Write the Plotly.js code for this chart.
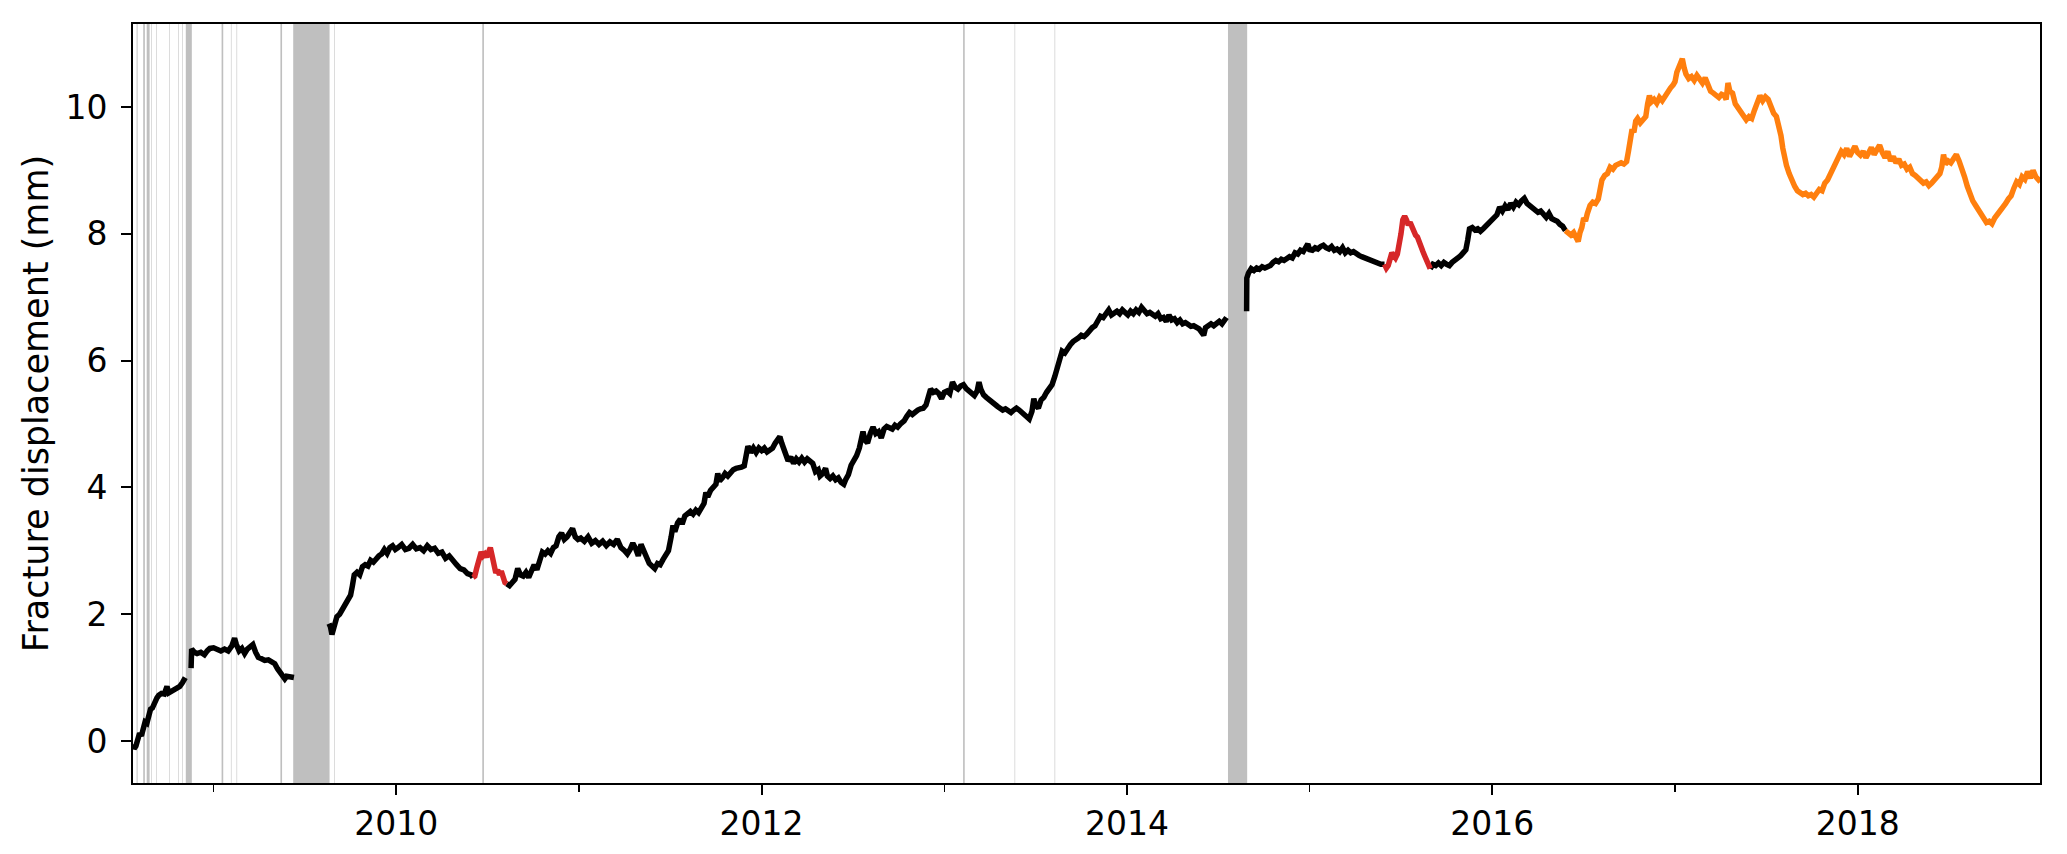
<!DOCTYPE html>
<html>
<head>
<meta charset="utf-8">
<script src="https://cdn.plot.ly/plotly-3.0.1.min.js"></script>
<style>
  html, body { margin: 0; padding: 0; background: #fff; }
  #plot { width: 2067px; height: 854px; }
</style>
</head>
<body>
<div id="plot"></div>
<script>
// decimal years / displacement in mm, null = data gap
var blackYear = [
  2008.560, 2008.565, 2008.575, 2008.585, 2008.595, 2008.605, 2008.615, 2008.625, 2008.635, 2008.645,
  2008.655, 2008.665, 2008.675, 2008.690, 2008.700, 2008.715, 2008.730, 2008.745, 2008.755, 2008.770,
  2008.785, 2008.800, 2008.815, 2008.830, 2008.845, null,
  2008.877, 2008.880, 2008.895, 2008.910, 2008.930, 2008.950, 2008.965, 2008.980, 2009.000, 2009.020,
  2009.040, 2009.060, 2009.080, 2009.100, 2009.115, 2009.125, 2009.140, 2009.155, 2009.170, 2009.185,
  2009.200, 2009.215, 2009.230, 2009.245, 2009.260, 2009.280, 2009.300, 2009.320, 2009.335, 2009.350,
  2009.365, 2009.380, 2009.390, 2009.400, 2009.420, 2009.440, null,
  2009.632, 2009.640, 2009.648, 2009.655, 2009.665, 2009.675, 2009.690, 2009.705, 2009.720, 2009.735,
  2009.750, 2009.760, 2009.770, 2009.785, 2009.800, 2009.815, 2009.830, 2009.845, 2009.860, 2009.875,
  2009.890, 2009.905, 2009.920, 2009.935, 2009.950, 2009.965, 2009.980, 2009.995, 2010.010, 2010.030,
  2010.050, 2010.070, 2010.090, 2010.110, 2010.130, 2010.150, 2010.170, 2010.190, 2010.210, 2010.230,
  2010.250, 2010.270, 2010.290, 2010.310, 2010.330, 2010.350, 2010.370, 2010.390, 2010.410, 2010.420, null,
  2010.605, 2010.620, 2010.635, 2010.650, 2010.665, 2010.680, 2010.695, 2010.710, 2010.725, 2010.740,
  2010.755, 2010.770, 2010.785, 2010.800, 2010.815, 2010.830, 2010.845, 2010.860, 2010.875, 2010.890,
  2010.905, 2010.920, 2010.935, 2010.950, 2010.965, 2010.980, 2010.995, 2011.010, 2011.030, 2011.050,
  2011.070, 2011.090, 2011.110, 2011.130, 2011.150, 2011.170, 2011.190, 2011.210, 2011.230, 2011.250,
  2011.265, 2011.280, 2011.295, 2011.310, 2011.325, 2011.340, 2011.355, 2011.370, 2011.385, 2011.400,
  2011.415, 2011.430, 2011.445, 2011.460, 2011.475, 2011.490, 2011.505, 2011.515, 2011.525, 2011.540,
  2011.555, 2011.565, 2011.580, 2011.595, 2011.610, 2011.625, 2011.640, 2011.655, 2011.670, 2011.685,
  2011.695, 2011.705, 2011.720, 2011.735, 2011.750, 2011.760, 2011.770, 2011.785, 2011.800, 2011.815,
  2011.830, 2011.845, 2011.860, 2011.875, 2011.890, 2011.905, 2011.915, 2011.925, 2011.940, 2011.955,
  2011.970, 2011.985, 2012.000, 2012.015, 2012.030, 2012.045, 2012.060, 2012.075, 2012.090, 2012.100,
  2012.110, 2012.125, 2012.135, 2012.145, 2012.160, 2012.175, 2012.190, 2012.205, 2012.220, 2012.235,
  2012.250, 2012.265, 2012.280, 2012.295, 2012.310, 2012.320, 2012.335, 2012.350, 2012.360, 2012.375,
  2012.390, 2012.405, 2012.420, 2012.435, 2012.450, 2012.460, 2012.475, 2012.490, 2012.505, 2012.520,
  2012.535, 2012.545, 2012.555, 2012.565, 2012.580, 2012.595, 2012.610, 2012.625, 2012.640, 2012.655,
  2012.670, 2012.685, 2012.700, 2012.715, 2012.730, 2012.745, 2012.760, 2012.780, 2012.795, 2012.810,
  2012.825, 2012.840, 2012.855, 2012.870, 2012.885, 2012.900, 2012.915, 2012.925, 2012.940, 2012.955,
  2012.970, 2012.985, 2013.000, 2013.015, 2013.030, 2013.045, 2013.060, 2013.075, 2013.090, 2013.105,
  2013.120, 2013.135, 2013.150, 2013.165, 2013.180, 2013.190, 2013.200, 2013.215, 2013.230, 2013.245,
  2013.260, 2013.275, 2013.290, 2013.305, 2013.320, 2013.335, 2013.350, 2013.365, 2013.380, 2013.395,
  2013.410, 2013.425, 2013.440, 2013.455, 2013.465, 2013.480, 2013.490, 2013.500, 2013.515, 2013.530,
  2013.545, 2013.560, 2013.575, 2013.590, 2013.605, 2013.620, 2013.635, 2013.645, 2013.660, 2013.675,
  2013.690, 2013.705, 2013.720, 2013.735, 2013.750, 2013.765, 2013.780, 2013.795, 2013.810, 2013.825,
  2013.840, 2013.855, 2013.870, 2013.885, 2013.900, 2013.915, 2013.930, 2013.945, 2013.960, 2013.975,
  2013.990, 2014.005, 2014.020, 2014.035, 2014.050, 2014.065, 2014.080, 2014.095, 2014.110, 2014.125,
  2014.140, 2014.155, 2014.170, 2014.185, 2014.200, 2014.215, 2014.230, 2014.245, 2014.260, 2014.275,
  2014.290, 2014.305, 2014.320, 2014.335, 2014.350, 2014.365, 2014.380, 2014.395, 2014.410, 2014.420,
  2014.430, 2014.445, 2014.460, 2014.475, 2014.490, 2014.505, 2014.520, 2014.535, 2014.545, null,
  2014.655, 2014.656, 2014.665, 2014.680, 2014.695, 2014.710, 2014.725, 2014.740, 2014.755, 2014.770,
  2014.785, 2014.800, 2014.815, 2014.830, 2014.845, 2014.860, 2014.875, 2014.890, 2014.905, 2014.920,
  2014.935, 2014.950, 2014.965, 2014.980, 2014.990, 2015.000, 2015.015, 2015.030, 2015.045, 2015.060,
  2015.075, 2015.090, 2015.105, 2015.120, 2015.135, 2015.150, 2015.165, 2015.180, 2015.195, 2015.210,
  2015.225, 2015.240, 2015.255, 2015.270, 2015.285, 2015.300, 2015.315, 2015.330, 2015.345, 2015.360,
  2015.375, 2015.390, 2015.410, null,
  2015.660, 2015.675, 2015.690, 2015.705, 2015.720, 2015.735, 2015.750, 2015.765, 2015.780, 2015.795,
  2015.810, 2015.825, 2015.840, 2015.855, 2015.865, 2015.875, 2015.890, 2015.905, 2015.920, 2015.935,
  2015.950, 2015.965, 2015.980, 2015.995, 2016.010, 2016.025, 2016.040, 2016.055, 2016.070, 2016.085,
  2016.100, 2016.115, 2016.130, 2016.145, 2016.160, 2016.175, 2016.190, 2016.205, 2016.220, 2016.235,
  2016.250, 2016.265, 2016.280, 2016.295, 2016.310, 2016.325, 2016.340, 2016.355, 2016.370, 2016.385,
  2016.400
];
var blackMm = [
  -0.05, -0.12, -0.08, 0.05, 0.12, 0.08, 0.20, 0.30, 0.28, 0.40,
  0.50, 0.52, 0.60, 0.68, 0.72, 0.75, 0.74, 0.86, 0.76, 0.78,
  0.80, 0.82, 0.86, 0.92, 1.00, null,
  1.15, 1.45, 1.40, 1.38, 1.40, 1.36, 1.42, 1.46, 1.47, 1.44,
  1.42, 1.45, 1.42, 1.50, 1.62, 1.52, 1.42, 1.46, 1.38, 1.45,
  1.50, 1.52, 1.40, 1.32, 1.30, 1.27, 1.28, 1.24, 1.22, 1.14,
  1.08, 1.04, 0.98, 1.02, 1.01, 1.00, null,
  1.85, 1.80, 1.68, 1.75, 1.90, 1.96, 2.00, 2.08, 2.15, 2.22,
  2.30, 2.45, 2.62, 2.66, 2.62, 2.75, 2.78, 2.76, 2.85, 2.82,
  2.88, 2.92, 2.95, 3.02, 2.96, 3.05, 3.08, 3.02, 3.05, 3.10,
  3.02, 3.04, 3.10, 3.03, 3.05, 3.00, 3.08, 3.02, 3.04, 2.96,
  2.98, 2.88, 2.92, 2.84, 2.78, 2.72, 2.70, 2.64, 2.62, 2.58, null,
  2.48, 2.45, 2.50, 2.55, 2.72, 2.62, 2.60, 2.66, 2.58, 2.70,
  2.78, 2.70, 2.85, 2.98, 2.95, 3.00, 2.96, 3.05, 3.08, 3.22,
  3.28, 3.18, 3.22, 3.30, 3.35, 3.22, 3.18, 3.20, 3.15, 3.22,
  3.12, 3.16, 3.10, 3.15, 3.08, 3.14, 3.10, 3.18, 3.05, 3.00,
  2.95, 3.02, 3.12, 3.04, 2.92, 3.10, 2.98, 2.88, 2.80, 2.76,
  2.72, 2.80, 2.78, 2.86, 2.92, 3.00, 3.22, 3.40, 3.30, 3.44,
  3.50, 3.42, 3.55, 3.60, 3.62, 3.58, 3.64, 3.60, 3.68, 3.75,
  3.92, 3.85, 3.95, 4.00, 4.05, 4.22, 4.10, 4.15, 4.22, 4.18,
  4.25, 4.28, 4.30, 4.30, 4.32, 4.34, 4.50, 4.65, 4.55, 4.62,
  4.55, 4.62, 4.58, 4.62, 4.56, 4.60, 4.62, 4.70, 4.78, 4.80,
  4.70, 4.60, 4.50, 4.42, 4.48, 4.38, 4.45, 4.40, 4.46, 4.40,
  4.45, 4.42, 4.38, 4.25, 4.28, 4.18, 4.22, 4.30, 4.18, 4.14,
  4.18, 4.12, 4.15, 4.08, 4.05, 4.12, 4.20, 4.35, 4.42, 4.50,
  4.62, 4.72, 4.88, 4.75, 4.70, 4.85, 4.95, 4.85, 4.88, 4.78,
  4.92, 4.96, 4.94, 4.92, 4.98, 4.95, 5.00, 5.05, 5.12, 5.18,
  5.15, 5.20, 5.22, 5.24, 5.25, 5.30, 5.48, 5.55, 5.50, 5.52,
  5.48, 5.40, 5.50, 5.52, 5.48, 5.66, 5.58, 5.55, 5.60, 5.62,
  5.56, 5.52, 5.48, 5.45, 5.52, 5.66, 5.55, 5.46, 5.42, 5.38,
  5.36, 5.30, 5.28, 5.25, 5.22, 5.24, 5.20, 5.18, 5.22, 5.25,
  5.22, 5.18, 5.15, 5.10, 5.08, 5.20, 5.40, 5.30, 5.25, 5.38,
  5.42, 5.50, 5.56, 5.62, 5.75, 5.90, 6.08, 6.15, 6.12, 6.20,
  6.25, 6.30, 6.32, 6.36, 6.40, 6.38, 6.42, 6.48, 6.52, 6.55,
  6.62, 6.70, 6.68, 6.75, 6.80, 6.72, 6.75, 6.78, 6.74, 6.80,
  6.76, 6.72, 6.78, 6.74, 6.80, 6.76, 6.84, 6.78, 6.74, 6.76,
  6.72, 6.70, 6.74, 6.66, 6.68, 6.62, 6.72, 6.64, 6.66, 6.60,
  6.64, 6.58, 6.60, 6.56, 6.54, 6.55, 6.52, 6.50, 6.44, 6.40,
  6.52, 6.55, 6.58, 6.55, 6.60, 6.62, 6.58, 6.65, 6.68, null,
  6.78, 7.30, 7.38, 7.45, 7.42, 7.46, 7.44, 7.48, 7.46, 7.48,
  7.50, 7.55, 7.58, 7.56, 7.60, 7.58, 7.62, 7.64, 7.62, 7.70,
  7.68, 7.74, 7.72, 7.80, 7.84, 7.75, 7.74, 7.78, 7.76, 7.80,
  7.82, 7.78, 7.76, 7.80, 7.74, 7.76, 7.72, 7.78, 7.70, 7.74,
  7.70, 7.72, 7.68, 7.66, 7.64, 7.62, 7.60, 7.58, 7.56, 7.55,
  7.54, 7.52, 7.52, null,
  7.45, 7.52, 7.50, 7.54, 7.50, 7.55, 7.52, 7.50, 7.55, 7.58,
  7.60, 7.65, 7.70, 7.75, 7.90, 8.08, 8.10, 8.06, 8.08, 8.04,
  8.08, 8.12, 8.18, 8.22, 8.25, 8.30, 8.42, 8.36, 8.44, 8.38,
  8.48, 8.42, 8.50, 8.46, 8.52, 8.56, 8.48, 8.44, 8.42, 8.38,
  8.34, 8.36, 8.30, 8.26, 8.32, 8.24, 8.22, 8.20, 8.15, 8.12,
  8.05
];

var redYear = [
  2010.420, 2010.430, 2010.440, 2010.455, 2010.465, 2010.475, 2010.485, 2010.495, 2010.505, 2010.515,
  2010.525, 2010.535, 2010.545, 2010.555, 2010.565, 2010.575, 2010.585, 2010.595, 2010.605, null,
  2015.410, 2015.420, 2015.430, 2015.440, 2015.450, 2015.460, 2015.470, 2015.480, 2015.490, 2015.500,
  2015.510, 2015.520, 2015.530, 2015.540, 2015.550, 2015.560, 2015.570, 2015.580, 2015.590, 2015.600,
  2015.610, 2015.620, 2015.630, 2015.640, 2015.650, 2015.660
];
var redMm = [
  2.58, 2.60, 2.72, 2.85, 2.98, 2.92, 2.95, 2.90, 3.00, 3.05,
  2.92, 2.80, 2.65, 2.70, 2.62, 2.68, 2.55, 2.50, 2.48, null,
  7.52, 7.46, 7.50, 7.62, 7.70, 7.66, 7.62, 7.68, 7.80, 8.00,
  8.22, 8.28, 8.22, 8.14, 8.18, 8.10, 8.08, 7.98, 7.95, 7.85,
  7.78, 7.72, 7.65, 7.58, 7.50, 7.45
];

var orangeYear = [
  2016.400, 2016.415, 2016.430, 2016.445, 2016.460, 2016.470, 2016.480, 2016.490, 2016.500, 2016.510,
  2016.520, 2016.535, 2016.550, 2016.565, 2016.580, 2016.590, 2016.600, 2016.615, 2016.630, 2016.645,
  2016.660, 2016.675, 2016.690, 2016.705, 2016.720, 2016.735, 2016.745, 2016.755, 2016.765, 2016.775,
  2016.785, 2016.795, 2016.810, 2016.825, 2016.840, 2016.850, 2016.860, 2016.870, 2016.885, 2016.900,
  2016.915, 2016.930, 2016.945, 2016.960, 2016.975, 2016.990, 2017.000, 2017.010, 2017.020, 2017.030,
  2017.040, 2017.050, 2017.060, 2017.075, 2017.090, 2017.105, 2017.120, 2017.135, 2017.150, 2017.165,
  2017.180, 2017.195, 2017.210, 2017.225, 2017.240, 2017.255, 2017.270, 2017.280, 2017.290, 2017.300,
  2017.315, 2017.330, 2017.345, 2017.360, 2017.375, 2017.390, 2017.405, 2017.420, 2017.435, 2017.450,
  2017.465, 2017.480, 2017.495, 2017.510, 2017.525, 2017.540, 2017.555, 2017.570, 2017.580, 2017.590,
  2017.600, 2017.610, 2017.625, 2017.640, 2017.655, 2017.670, 2017.685, 2017.700, 2017.715, 2017.730,
  2017.745, 2017.760, 2017.775, 2017.790, 2017.805, 2017.820, 2017.835, 2017.850, 2017.865, 2017.880,
  2017.895, 2017.910, 2017.925, 2017.940, 2017.955, 2017.970, 2017.985, 2018.000, 2018.015, 2018.030,
  2018.045, 2018.060, 2018.075, 2018.090, 2018.105, 2018.120, 2018.135, 2018.150, 2018.165, 2018.180,
  2018.195, 2018.210, 2018.225, 2018.240, 2018.255, 2018.270, 2018.285, 2018.300, 2018.315, 2018.330,
  2018.345, 2018.360, 2018.375, 2018.390, 2018.405, 2018.420, 2018.435, 2018.450, 2018.460, 2018.470,
  2018.480, 2018.495, 2018.510, 2018.525, 2018.540, 2018.555, 2018.570, 2018.585, 2018.600, 2018.615,
  2018.630, 2018.645, 2018.660, 2018.675, 2018.690, 2018.705, 2018.720, 2018.735, 2018.750, 2018.765,
  2018.780, 2018.795, 2018.810, 2018.825, 2018.840, 2018.855, 2018.870, 2018.885, 2018.900, 2018.915,
  2018.930, 2018.945, 2018.960, 2018.975, 2018.990, 2019.000
];
var orangeMm = [
  8.05, 8.00, 7.98, 8.02, 7.95, 7.88, 8.02, 8.10, 8.25, 8.20,
  8.32, 8.45, 8.50, 8.48, 8.55, 8.70, 8.85, 8.92, 8.95, 9.05,
  9.02, 9.08, 9.10, 9.12, 9.10, 9.14, 9.30, 9.55, 9.65, 9.60,
  9.78, 9.82, 9.75, 9.80, 9.85, 10.05, 10.18, 10.08, 10.12, 10.06,
  10.15, 10.10, 10.18, 10.22, 10.30, 10.35, 10.40, 10.55, 10.62, 10.68,
  10.76, 10.62, 10.52, 10.45, 10.48, 10.42, 10.50, 10.44, 10.38, 10.46,
  10.32, 10.25, 10.22, 10.18, 10.15, 10.20, 10.18, 10.12, 10.38, 10.25,
  10.22, 10.05, 9.98, 9.90, 9.86, 9.80, 9.85, 9.82, 9.95, 10.05,
  10.18, 10.10, 10.16, 10.12, 10.00, 9.90, 9.85, 9.70, 9.55, 9.35,
  9.20, 9.08, 8.95, 8.82, 8.75, 8.68, 8.65, 8.62, 8.64, 8.60,
  8.62, 8.58, 8.64, 8.70, 8.68, 8.80, 8.85, 8.95, 9.00, 9.10,
  9.22, 9.30, 9.25, 9.35, 9.22, 9.30, 9.38, 9.28, 9.24, 9.30,
  9.20, 9.28, 9.36, 9.25, 9.32, 9.40, 9.28, 9.20, 9.30, 9.15,
  9.22, 9.12, 9.18, 9.08, 9.10, 9.02, 9.05, 8.95, 8.92, 8.88,
  8.85, 8.80, 8.82, 8.76, 8.80, 8.85, 8.88, 8.95, 9.05, 9.25,
  9.10, 9.15, 9.12, 9.18, 9.25, 9.15, 9.05, 8.90, 8.75, 8.62,
  8.52, 8.45, 8.38, 8.30, 8.22, 8.18, 8.20, 8.16, 8.25, 8.30,
  8.35, 8.40, 8.48, 8.55, 8.60, 8.72, 8.82, 8.78, 8.90, 8.86,
  8.98, 8.88, 9.00, 8.90, 8.85, 8.82
];

// grey spans where the record has gaps (decimal years)
var gapStart = [
  2008.579, 2008.615, 2008.634, 2008.659, 2008.687, 2008.757, 2008.806, 2008.828, 2008.848,
  2009.044, 2009.095, 2009.126, 2009.366, 2009.436, 2009.661, 2010.471,
  2013.103, 2013.385, 2013.604, 2014.553
];
var gapEnd = [
  2008.584, 2008.624, 2008.650, 2008.662, 2008.690, 2008.760, 2008.809, 2008.831, 2008.881,
  2009.053, 2009.098, 2009.129, 2009.375, 2009.635, 2009.664, 2010.480,
  2013.112, 2013.388, 2013.607, 2014.658
];

var xRange = [2008.559, 2018.998];
var yRange = [-0.663, 11.31];

var gapShapes = gapStart.map(function(s, i) {
  return {
    type: "rect",
    xref: "x",
    yref: "paper",
    x0: s,
    x1: gapEnd[i],
    y0: 0,
    y1: 1,
    fillcolor: "#bfbfbf",
    line: { width: 0 },
    layer: "below"
  };
});

var blackTrace = {
  x: blackYear,
  y: blackMm,
  mode: "lines",
  line: { color: "#000000", width: 5.5 },
  connectgaps: false,
  hoverinfo: "skip"
};

var redTrace = {
  x: redYear,
  y: redMm,
  mode: "lines",
  line: { color: "#d62728", width: 5.5 },
  connectgaps: false,
  hoverinfo: "skip"
};

var orangeTrace = {
  x: orangeYear,
  y: orangeMm,
  mode: "lines",
  line: { color: "#ff7f0e", width: 5.5 },
  hoverinfo: "skip"
};

var tickFont = { family: "DejaVu Sans", size: 33, color: "#000000" };

var layout = {
  width: 2067,
  height: 854,
  margin: { l: 133, r: 27, t: 24, b: 71 },
  paper_bgcolor: "#ffffff",
  plot_bgcolor: "#ffffff",
  showlegend: false,
  shapes: gapShapes,
  xaxis: {
    type: "linear",
    range: xRange,
    tick0: 2010,
    dtick: 2,
    tickformat: "d",
    ticks: "outside",
    ticklen: 10,
    tickwidth: 2,
    tickcolor: "#000000",
    tickfont: tickFont,
    showgrid: false,
    zeroline: false,
    showline: true,
    linecolor: "#000000",
    linewidth: 2,
    mirror: true,
    minor: {
      tick0: 2009,
      dtick: 1,
      ticks: "outside",
      ticklen: 7,
      tickwidth: 1.5,
      tickcolor: "#000000",
      showgrid: false
    }
  },
  yaxis: {
    range: yRange,
    tick0: 0,
    dtick: 2,
    ticks: "outside",
    ticklen: 10,
    tickwidth: 2,
    tickcolor: "#000000",
    tickfont: tickFont,
    ticklabelstandoff: 7,
    showgrid: false,
    zeroline: false,
    showline: true,
    linecolor: "#000000",
    linewidth: 2,
    mirror: true,
    title: {
      text: "Fracture displacement (mm)",
      font: { family: "DejaVu Sans", size: 35, color: "#000000" },
      standoff: 6
    }
  }
};

Plotly.newPlot("plot", [blackTrace, redTrace, orangeTrace], layout, { staticPlot: true, displayModeBar: false });
</script>
</body>
</html>
